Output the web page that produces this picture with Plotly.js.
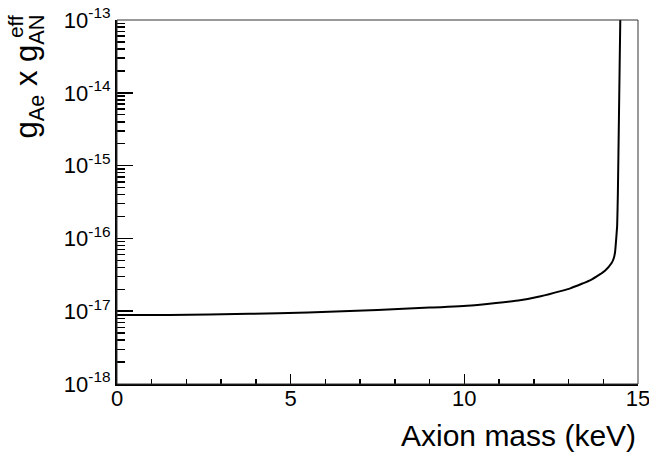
<!DOCTYPE html>
<html>
<head>
<meta charset="utf-8">
<script src="https://cdn.plot.ly/plotly-3.0.1.min.js"></script>
<style>html,body{margin:0;padding:0;background:#fff;}#chart{width:649px;height:455px;}</style>
</head>
<body>
<div id="chart"></div>
<script>
// Data
const axionMass = [0, 1.5, 3.8, 5.5, 7.5, 9, 10.2, 11.6, 12.2, 12.8, 13.05, 13.4, 13.62, 13.9, 14.05, 14.24, 14.30, 14.34, 14.38, 14.40, 14.42, 14.45, 14.49, 14.50];
const coupling  = [8.84e-18, 8.9e-18, 9.2e-18, 9.6e-18, 1.04e-17, 1.12e-17, 1.20e-17, 1.41e-17, 1.60e-17, 1.90e-17, 2.06e-17, 2.4e-17, 2.65e-17, 3.2e-17, 3.6e-17, 4.6e-17, 5.3e-17, 6.5e-17, 1.1e-16, 1.5e-16, 4e-16, 4.2e-15, 1e-13, 2e-13];

const yMajorVals = [1e-18, 1e-17, 1e-16, 1e-15, 1e-14, 1e-13];
const yMajorText = ['10<sup>-18</sup>', '10<sup>-17</sup>', '10<sup>-16</sup>', '10<sup>-15</sup>', '10<sup>-14</sup>', '10<sup>-13</sup>'];
const yMinorVals = [];
for (let d = -18; d < -13; d++) for (let m = 2; m <= 9; m++) yMinorVals.push(m * Math.pow(10, d));
const xMajorVals = [0, 5, 10, 15];
const xMinorVals = [1, 2, 3, 4, 6, 7, 8, 9, 11, 12, 13, 14];

const font = {family: 'Liberation Sans, Arial, sans-serif', color: '#000'};

const traces = [
  {x: axionMass, y: coupling, type: 'scatter', mode: 'lines',
   line: {color: '#000', width: 2, shape: 'spline', smoothing: 0.4},
   hoverinfo: 'skip', showlegend: false, xaxis: 'x', yaxis: 'y'},
  {x: axionMass, y: coupling, type: 'scatter', mode: 'lines',
   line: {color: 'rgba(0,0,0,0)', width: 0},
   hoverinfo: 'skip', showlegend: false, xaxis: 'x2', yaxis: 'y2'}
];

const layout = {
  width: 649, height: 455,
  margin: {l: 117, r: 11, t: 20, b: 71},
  paper_bgcolor: '#fff', plot_bgcolor: '#fff',
  showlegend: false,
  font: Object.assign({size: 22}, font),
  xaxis: {
    range: [0, 15], showgrid: false, zeroline: false,
    showline: true, linecolor: '#000', linewidth: 2,
    ticks: 'inside', ticklen: 10, tickwidth: 1.5, tickcolor: '#000',
    tickvals: xMajorVals, ticktext: xMajorVals.map(String),
    tickfont: Object.assign({size: 22}, font), anchor: 'y',
    ticklabeloverflow: 'allow', ticklabelstandoff: -6
  },
  yaxis: {
    type: 'log', range: [-18, -13], showgrid: false, zeroline: false,
    showline: true, linecolor: '#000', linewidth: 2,
    ticks: 'inside', ticklen: 16, tickwidth: 1.5, tickcolor: '#000',
    tickvals: yMajorVals, ticktext: yMajorText,
    tickfont: Object.assign({size: 22}, font), anchor: 'x',
    ticklabeloverflow: 'allow'
  },
  xaxis2: {
    range: [0, 15], overlaying: 'x', anchor: 'y2', side: 'bottom',
    showgrid: false, zeroline: false, showline: false,
    ticks: 'inside', ticklen: 5, tickwidth: 1.5, tickcolor: '#000',
    tickvals: xMinorVals, showticklabels: false
  },
  yaxis2: {
    type: 'log', range: [-18, -13], overlaying: 'y', anchor: 'x2', side: 'left',
    showgrid: false, zeroline: false, showline: false,
    ticks: 'inside', ticklen: 8, tickwidth: 1.5, tickcolor: '#000',
    tickvals: yMinorVals, showticklabels: false
  },
  shapes: [
    {type: 'rect', xref: 'paper', yref: 'paper', x0: 0, x1: 1, y0: 0, y1: 1,
     line: {color: '#333', width: 1}, fillcolor: 'rgba(0,0,0,0)', layer: 'above'}
  ],
  annotations: [
    {text: 'Axion mass (keV)', xref: 'paper', yref: 'paper', x: 1, y: -0.142,
     xanchor: 'right', yanchor: 'middle', showarrow: false,
     font: Object.assign({size: 30}, font)},
    {text: 'g<sub>Ae</sub> x g<sub>AN</sub>', xref: 'paper', yref: 'paper',
     x: -0.168, y: 1.022, xanchor: 'center', yanchor: 'top', textangle: -90, showarrow: false,
     font: Object.assign({size: 31}, font)},
    {text: 'eff', xref: 'paper', yref: 'paper',
     x: -0.196, y: 0.983, xanchor: 'center', yanchor: 'middle', textangle: -90, showarrow: false,
     font: Object.assign({size: 21}, font)}
  ]
};

Plotly.newPlot('chart', traces, layout, {staticPlot: true, displayModeBar: false});
</script>
</body>
</html>
